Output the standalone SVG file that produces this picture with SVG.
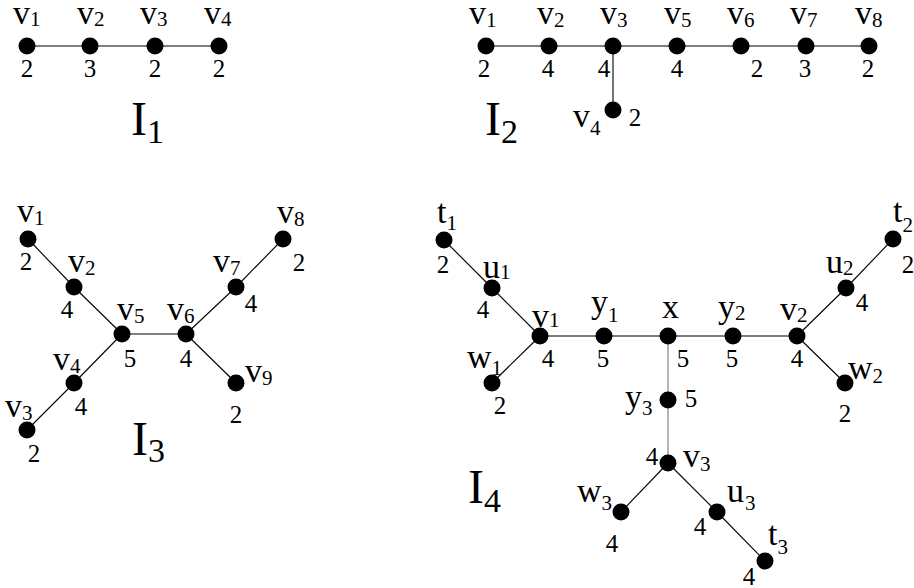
<svg xmlns="http://www.w3.org/2000/svg" width="914" height="588" viewBox="0 0 914 588">
<style>
text { font-family: "Liberation Serif", "Times New Roman", serif; fill: #000; }
.l { font-size: 34px; }
.s { font-size: 21px; }
.d { font-size: 25px; text-anchor: middle; }
.big { font-size: 48px; }
.bs { font-size: 34px; }
.e line { stroke: #000; stroke-width: 1.1; }
.e line.g { stroke: #777; }
circle { fill: #000; }
</style>
<rect width="914" height="588" fill="#fff"/>

<!-- Connectors -->
<g id="connectors" class="e">
  <!-- I1 -->
  <line x1="27" y1="46" x2="219" y2="46"/>
  <!-- I2 -->
  <line x1="486" y1="46" x2="869" y2="46"/>
  <line x1="613" y1="46" x2="613" y2="110"/>
  <!-- I3 -->
  <line x1="28" y1="239" x2="74" y2="287"/>
  <line x1="74" y1="287" x2="122" y2="334"/>
  <line x1="122" y1="334" x2="186" y2="334"/>
  <line x1="122" y1="334" x2="74" y2="383"/>
  <line x1="74" y1="383" x2="27" y2="430"/>
  <line x1="186" y1="334" x2="236" y2="287"/>
  <line x1="236" y1="287" x2="283" y2="239"/>
  <line x1="186" y1="334" x2="236" y2="383"/>
  <!-- I4 -->
  <line x1="444" y1="240" x2="492" y2="288"/>
  <line x1="492" y1="288" x2="540" y2="336"/>
  <line x1="492" y1="383" x2="540" y2="336"/>
  <line x1="540" y1="336" x2="797" y2="336"/>
  <line x1="797" y1="336" x2="846" y2="288"/>
  <line x1="846" y1="288" x2="893" y2="239"/>
  <line x1="797" y1="336" x2="845" y2="383"/>
  <line class="g" x1="668" y1="336" x2="668" y2="463"/>
  <line x1="668" y1="463" x2="621" y2="512"/>
  <line x1="668" y1="463" x2="717" y2="512"/>
  <line x1="717" y1="512" x2="765" y2="561"/>
</g>

<!-- I1 -->
<g id="I1-v1"><circle cx="27" cy="46" r="8.5"/><text class="l" x="13" y="24">v<tspan class="s" dy="2">1</tspan></text><text class="d" x="27" y="77">2</text></g>
<g id="I1-v2"><circle cx="90" cy="46" r="8.5"/><text class="l" x="77" y="24">v<tspan class="s" dy="2">2</tspan></text><text class="d" x="90" y="77">3</text></g>
<g id="I1-v3"><circle cx="155" cy="46" r="8.5"/><text class="l" x="140" y="24">v<tspan class="s" dy="2">3</tspan></text><text class="d" x="155" y="77">2</text></g>
<g id="I1-v4"><circle cx="219" cy="46" r="8.5"/><text class="l" x="204" y="24">v<tspan class="s" dy="2">4</tspan></text><text class="d" x="219" y="77">2</text></g>
<g id="I1-label"><text class="big" x="131" y="135">I<tspan class="bs" dy="8">1</tspan></text></g>

<!-- I2 -->
<g id="I2-v1"><circle cx="486" cy="46" r="8.5"/><text class="l" x="469" y="24">v<tspan class="s" dy="3">1</tspan></text><text class="d" x="484" y="77">2</text></g>
<g id="I2-v2"><circle cx="549" cy="46" r="8.5"/><text class="l" x="537" y="24">v<tspan class="s" dy="3">2</tspan></text><text class="d" x="548" y="77">4</text></g>
<g id="I2-v3"><circle cx="613" cy="46" r="8.5"/><text class="l" x="600" y="24">v<tspan class="s" dy="3">3</tspan></text><text class="d" x="604" y="77">4</text></g>
<g id="I2-v5"><circle cx="677" cy="46" r="8.5"/><text class="l" x="664" y="24">v<tspan class="s" dy="3">5</tspan></text><text class="d" x="677" y="77">4</text></g>
<g id="I2-v6"><circle cx="741" cy="46" r="8.5"/><text class="l" x="727" y="24">v<tspan class="s" dy="3">6</tspan></text><text class="d" x="757" y="77">2</text></g>
<g id="I2-v7"><circle cx="806" cy="46" r="8.5"/><text class="l" x="790" y="24">v<tspan class="s" dy="3">7</tspan></text><text class="d" x="805" y="77">3</text></g>
<g id="I2-v8"><circle cx="869" cy="46" r="8.5"/><text class="l" x="855" y="24">v<tspan class="s" dy="3">8</tspan></text><text class="d" x="868" y="77">2</text></g>
<g id="I2-v4"><circle cx="613" cy="110" r="8.5"/><text class="l" x="573" y="127">v<tspan class="s" dy="8">4</tspan></text><text class="d" x="635" y="126">2</text></g>
<g id="I2-label"><text class="big" x="485" y="135">I<tspan class="bs" dy="8">2</tspan></text></g>

<!-- I3 -->
<g id="I3-v1"><circle cx="28" cy="239" r="8.5"/><text class="l" x="17" y="222">v<tspan class="s" dy="3">1</tspan></text><text class="d" x="26" y="270">2</text></g>
<g id="I3-v2"><circle cx="74" cy="287" r="8.5"/><text class="l" x="68" y="272">v<tspan class="s" dy="3">2</tspan></text><text class="d" x="67" y="318">4</text></g>
<g id="I3-v5"><circle cx="122" cy="334" r="8.5"/><text class="l" x="117" y="320">v<tspan class="s" dy="3">5</tspan></text><text class="d" x="130" y="367">5</text></g>
<g id="I3-v6"><circle cx="186" cy="334" r="8.5"/><text class="l" x="167" y="320">v<tspan class="s" dy="3">6</tspan></text><text class="d" x="186" y="367">4</text></g>
<g id="I3-v7"><circle cx="236" cy="287" r="8.5"/><text class="l" x="213" y="272">v<tspan class="s" dy="3">7</tspan></text><text class="d" x="251" y="312">4</text></g>
<g id="I3-v8"><circle cx="283" cy="239" r="8.5"/><text class="l" x="277" y="223">v<tspan class="s" dy="3">8</tspan></text><text class="d" x="299" y="271">2</text></g>
<g id="I3-v9"><circle cx="236" cy="383" r="8.5"/><text class="l" x="245" y="382">v<tspan class="s" dy="3">9</tspan></text><text class="d" x="236" y="423">2</text></g>
<g id="I3-v4"><circle cx="74" cy="383" r="8.5"/><text class="l" x="53" y="370">v<tspan class="s" dy="3">4</tspan></text><text class="d" x="81" y="415">4</text></g>
<g id="I3-v3"><circle cx="27" cy="430" r="8.5"/><text class="l" x="5" y="417">v<tspan class="s" dy="3">3</tspan></text><text class="d" x="34" y="462">2</text></g>
<g id="I3-label"><text class="big" x="132" y="455">I<tspan class="bs" dy="7">3</tspan></text></g>

<!-- I4 -->
<g id="I4-t1"><circle cx="444" cy="240" r="8.5"/><text class="l" x="437" y="223">t<tspan class="s" dy="7">1</tspan></text><text class="d" x="443" y="273">2</text></g>
<g id="I4-u1"><circle cx="492" cy="288" r="8.5"/><text class="l" x="483" y="278">u<tspan class="s" dy="1">1</tspan></text><text class="d" x="483" y="318">4</text></g>
<g id="I4-v1"><circle cx="540" cy="336" r="8.5"/><text class="l" x="532" y="327">v<tspan class="s" dy="0">1</tspan></text><text class="d" x="548" y="367">4</text></g>
<g id="I4-w1"><circle cx="492" cy="383" r="8.5"/><text class="l" x="467" y="368">w<tspan class="s" dy="7">1</tspan></text><text class="d" x="500" y="414">2</text></g>
<g id="I4-y1"><circle cx="604" cy="336" r="8.5"/><text class="l" x="591" y="313">y<tspan class="s" dy="9">1</tspan></text><text class="d" x="603" y="367">5</text></g>
<g id="I4-x"><circle cx="668" cy="336" r="8.5"/><text class="l" x="662" y="318">x</text><text class="d" x="683" y="367">5</text></g>
<g id="I4-y2"><circle cx="733" cy="336" r="8.5"/><text class="l" x="718" y="318">y<tspan class="s" dy="2">2</tspan></text><text class="d" x="732" y="367">5</text></g>
<g id="I4-v2"><circle cx="797" cy="336" r="8.5"/><text class="l" x="780" y="320">v<tspan class="s" dy="2">2</tspan></text><text class="d" x="797" y="367">4</text></g>
<g id="I4-u2"><circle cx="846" cy="288" r="8.5"/><text class="l" x="826" y="273">u<tspan class="s" dy="2">2</tspan></text><text class="d" x="862" y="311">4</text></g>
<g id="I4-t2"><circle cx="893" cy="239" r="8.5"/><text class="l" x="893" y="222">t<tspan class="s" dy="10">2</tspan></text><text class="d" x="908" y="273">2</text></g>
<g id="I4-w2"><circle cx="845" cy="383" r="8.5"/><text class="l" x="848" y="379">w<tspan class="s" dy="4">2</tspan></text><text class="d" x="845" y="422">2</text></g>
<g id="I4-y3"><circle cx="668" cy="400" r="8.5"/><text class="l" x="625" y="408">y<tspan class="s" dy="7">3</tspan></text><text class="d" x="691" y="407">5</text></g>
<g id="I4-v3"><circle cx="668" cy="463" r="8.5"/><text class="l" x="683" y="467">v<tspan class="s" dy="4">3</tspan></text><text class="d" x="652" y="465">4</text></g>
<g id="I4-w3"><circle cx="621" cy="512" r="8.5"/><text class="l" x="577" y="502">w<tspan class="s" dy="8">3</tspan></text><text class="d" x="612" y="552">4</text></g>
<g id="I4-u3"><circle cx="717" cy="512" r="8.5"/><text class="l" x="727" y="502">u<tspan class="s" dx="1" dy="8">3</tspan></text><text class="d" x="700" y="535">4</text></g>
<g id="I4-t3"><circle cx="765" cy="561" r="8.5"/><text class="l" x="768" y="545">t<tspan class="s" dy="9">3</tspan></text><text class="d" x="749" y="585">4</text></g>
<g id="I4-label"><text class="big" x="468" y="503">I<tspan class="bs" dy="9">4</tspan></text></g>
</svg>
